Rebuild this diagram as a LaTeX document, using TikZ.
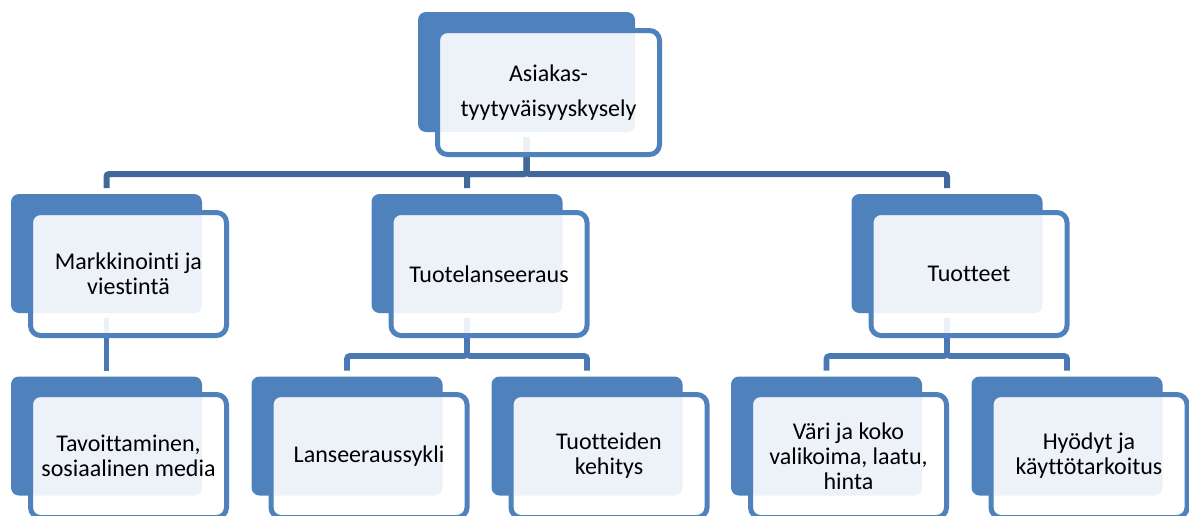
\documentclass[tikz,border=0pt]{standalone}
\usepackage{fontspec}
\setmainfont[Ligatures=NoCommon,RawFeature=-liga]{Carlito}
\usetikzlibrary{calc}
\definecolor{accent}{HTML}{4F81BD}
\definecolor{linkA}{HTML}{41689B}
\definecolor{linkB}{HTML}{4A78B3}
\begin{document}
\begin{tikzpicture}[x=0.75pt,y=-0.75pt,
  backbox/.style={fill=accent, rounded corners=6pt, minimum width=143.25pt,
    minimum height=89.25pt, inner sep=0pt, outer sep=0pt},
  topback/.style={backbox, minimum width=162.75pt, minimum height=90pt},
  frontbox/.style={draw=accent, line width=3.75pt, fill=white, fill opacity=0.9,
    text opacity=1, rounded corners=7.5pt, minimum width=147pt, minimum height=92.25pt,
    inner sep=0pt, outer sep=0pt, align=center, text=black,
    font=\fontsize{18}{18.75}\selectfont},
  topfront/.style={frontbox, minimum width=166.5pt, minimum height=93pt,
    font=\fontsize{18}{26.25}\selectfont},
  linktop/.style={draw=linkA, line width=4.5pt, rounded corners=2pt},
  linksub/.style={draw=linkB, line width=4.2pt, rounded corners=2pt}
]
\useasboundingbox (0,0) rectangle (1189,515);

% back boxes
\node[topback] (b0) at (526.5,72) {};
\node[backbox] (b1) at (106.5,253.5) {};
\node[backbox] (b2) at (467,253.5) {};
\node[backbox] (b3) at (947,253.5) {};
\node[backbox] (c1) at (106.5,436) {};
\node[backbox] (c2) at (347,436) {};
\node[backbox] (c3) at (587,436) {};
\node[backbox] (c4) at (826.5,436) {};
\node[backbox] (c5) at (1067,436) {};

% connectors
\coordinate (busTop) at (0,174);
\coordinate (busMid) at (0,356);
\draw[linktop] ($(b0.south)+(0,5)$) -- (b0.south |- busTop) -| ($(b1.north)+(0,-6)$);
\draw[linktop] ($(b0.south)+(0,5)$) -- (b0.south |- busTop) -| ($(b2.north)+(0,-6)$);
\draw[linktop] ($(b0.south)+(0,5)$) -- (b0.south |- busTop) -| ($(b3.north)+(0,-6)$);
\draw[linksub] ($(b1.south)+(0,5)$) -- ($(c1.north)+(0,-6)$);
\draw[linksub] ($(b2.south)+(0,5)$) -- (b2.south |- busMid) -| ($(c2.north)+(0,-6)$);
\draw[linksub] ($(b2.south)+(0,5)$) -- (b2.south |- busMid) -| ($(c3.north)+(0,-6)$);
\draw[linksub] ($(b3.south)+(0,5)$) -- (b3.south |- busMid) -| ($(c4.north)+(0,-6)$);
\draw[linksub] ($(b3.south)+(0,5)$) -- (b3.south |- busMid) -| ($(c5.north)+(0,-6)$);

% front boxes with text
\node[topfront] (f0) at (548.5,92.5) {Asiakas-\\tyytyväisyyskysely};
\node[frontbox] (g1) at (128.5,274) {Markkinointi ja\\viestintä};
\node[frontbox] (g2) at (489,274) {Tuotelanseeraus};
\node[frontbox] (g3) at (969,274) {Tuotteet};
\node[frontbox] (h1) at (128.5,456) {Tavoittaminen,\\sosiaalinen media};
\node[frontbox] (h2) at (369,456) {Lanseeraussykli};
\node[frontbox] (h3) at (609,456) {Tuotteiden\\kehitys};
\node[frontbox] (h4) at (848.5,456) {Väri ja koko\\valikoima, laatu,\\hinta};
\node[frontbox] (h5) at (1089,456) {Hyödyt ja\\käyttötarkoitus};
\end{tikzpicture}
\end{document}
